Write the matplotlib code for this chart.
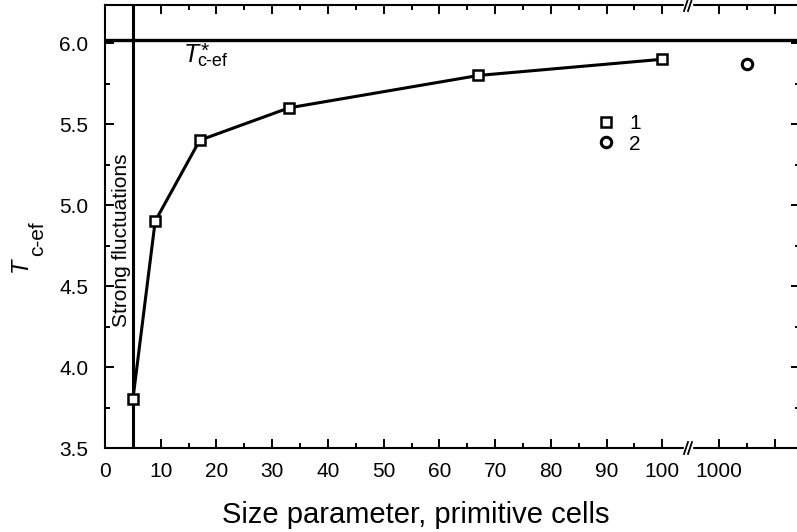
import numpy as np
import matplotlib.pyplot as plt
from matplotlib.lines import Line2D
from matplotlib.ticker import MultipleLocator, FixedLocator, FixedFormatter

plt.rcParams['font.family'] = ['Liberation Sans', 'DejaVu Sans']

# series 1: finite-size clusters
size_1 = [5, 9, 17, 33, 67, 100]
tc_1 = [3.80, 4.90, 5.40, 5.60, 5.80, 5.90]
# series 2: large cluster (shown past the axis break)
size_2 = [1005]
tc_2 = [5.87]

tc_star = 6.02
fluct_limit = 5

W, H = 797, 532
fig = plt.figure(figsize=(W / 100, H / 100), dpi=100)


def px(x, y):
    # pixel position (from top-left) -> figure fraction
    return x / W, 1 - y / H


x0, xb, x1 = 105, 688, 800
y0, y1 = 448, 5
axL = fig.add_axes([x0 / W, 1 - y0 / H, (xb - x0) / W, (y0 - y1) / H])
axR = fig.add_axes([xb / W, 1 - y0 / H, (x1 - xb) / W, (y0 - y1) / H], sharey=axL)

for ax in (axL, axR):
    for s in ax.spines.values():
        s.set_linewidth(1.5)
    ax.tick_params(which='both', direction='in', top=True, right=True,
                   width=1.4, labelsize=15)
    ax.tick_params(which='major', length=6.5)
    ax.tick_params(which='minor', length=3.5)
    ax.tick_params(axis='x', pad=10)
    ax.tick_params(axis='y', pad=12)
    ax.axhline(tc_star, color='black', lw=2.4)

axL.spines['right'].set_visible(False)
axR.spines['left'].set_visible(False)
axL.tick_params(right=False, which='both')
axR.tick_params(left=False, labelleft=False, which='both')

axL.set_xlim(0, 104.6)
axR.set_xlim(994.4, 1014.5)
axL.set_ylim(3.5, 6.235)
axL.yaxis.set_major_locator(MultipleLocator(0.5))
axL.yaxis.set_minor_locator(MultipleLocator(0.25))
axL.yaxis.set_major_formatter(plt.FormatStrFormatter('%.1f'))
axL.xaxis.set_major_locator(MultipleLocator(10))
axL.xaxis.set_minor_locator(MultipleLocator(5))
axR.xaxis.set_major_locator(FixedLocator([1000, 1010]))
axR.xaxis.set_major_formatter(FixedFormatter(['1000', '']))
axR.xaxis.set_minor_locator(FixedLocator([1005]))

axL.axvline(fluct_limit, color='black', lw=2.2)

axL.plot(size_1, tc_1, color='black', lw=2.2, marker='s', ms=7,
         mfc='white', mec='black', mew=1.8, zorder=3)
axR.plot(size_2, tc_2, ls='none', marker='o', ms=7.5,
         mfc='white', mec='black', mew=2.2, zorder=3)

fig.text(*px(127, 327), 'Strong fluctuations', rotation=90,
         rotation_mode='anchor', ha='left', va='baseline', fontsize=15)

# T*_c-ef label next to the horizontal line
fig.text(*px(184, 62), 'T', style='italic', fontsize=18, va='baseline')
fig.text(*px(201, 57), '*', fontsize=15, va='baseline')
fig.text(*px(197, 66), 'c-ef', fontsize=13, va='baseline')

handles = [Line2D([], [], ls='none', marker='s', ms=7, mfc='white',
                  mec='black', mew=1.8),
           Line2D([], [], ls='none', marker='o', ms=7.5, mfc='white',
                  mec='black', mew=2.2)]
fig.legend(handles, ['1', '2'], loc='center left',
           bbox_to_anchor=(577 / W, 1 - 134 / H), frameon=False,
           fontsize=15, handlelength=1.0, handletextpad=0.6,
           labelspacing=0.05)

# break marks on the bottom and top spines
for yy in (y0, y1):
    fig.patches.append(plt.Rectangle(px(xb - 4, yy + 2), 8 / W, 4 / H,
                                     color='white', transform=fig.transFigure,
                                     zorder=5))
    for dx in (-2, 2):
        fig.lines.append(Line2D([(xb + dx - 2) / W, (xb + dx + 2) / W],
                                [1 - (yy + 6) / H, 1 - (yy - 6) / H],
                                color='black', lw=1.3,
                                transform=fig.transFigure, zorder=6))

fig.text(*px(416, 515), 'Size parameter, primitive cells',
         ha='center', va='center', fontsize=21)

# rotated y label T_c-ef
fig.text(*px(27, 272), 'T', style='italic', fontsize=17, rotation=90,
         rotation_mode='anchor', ha='left', va='baseline')
fig.text(*px(43, 256), 'c-ef', fontsize=15, rotation=90,
         rotation_mode='anchor', ha='left', va='baseline')

fig.savefig('out.png', dpi=100)
